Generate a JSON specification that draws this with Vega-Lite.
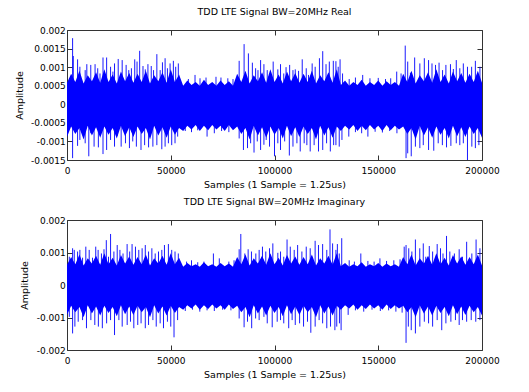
{
  "$schema": "https://vega.github.io/schema/vega-lite/v6.json",
  "background": "white",
  "padding": {"left": 13, "top": 6, "right": 5, "bottom": 5},
  "spacing": 7,
  "config": {
    "font": "DejaVu Sans",
    "view": {"stroke": "#333333", "strokeWidth": 1},
    "axis": {"labelFont": "DejaVu Sans", "labelFontSize": 9, "labelColor": "#000000", "labelFlush": false, "labelOverlap": false, "titleFont": "DejaVu Sans", "titleFontSize": 9.5, "titleFontWeight": "normal", "titleColor": "#000000", "grid": false, "domain": false, "tickColor": "#333333", "tickSize": -5},
    "title": {"font": "DejaVu Sans", "fontSize": 9.5, "fontWeight": "normal", "color": "#000000", "offset": 10}
  },
  "datasets": {
    "core1": [
      {"x":0,"hi":0.00058,"lo":-0.00088},{"x":2000,"hi":0.00082,"lo":-0.0006},{"x":4000,"hi":0.0006,"lo":-0.0008},{"x":6000,"hi":0.0009,"lo":-0.00064},{"x":8000,"hi":0.00056,"lo":-0.00095},{"x":10000,"hi":0.00078,"lo":-0.00058},{"x":12000,"hi":0.00062,"lo":-0.00084},{"x":14000,"hi":0.00086,"lo":-0.00062},{"x":16000,"hi":0.00058,"lo":-0.0009},{"x":18000,"hi":0.00094,"lo":-0.0006},{"x":20000,"hi":0.0006,"lo":-0.00082},{"x":22000,"hi":0.0008,"lo":-0.00064},{"x":24000,"hi":0.00056,"lo":-0.00092},{"x":26000,"hi":0.00088,"lo":-0.00058},{"x":28000,"hi":0.00062,"lo":-0.00086},{"x":30000,"hi":0.00084,"lo":-0.00062},{"x":32000,"hi":0.00058,"lo":-0.00088},{"x":34000,"hi":0.00082,"lo":-0.0006},{"x":36000,"hi":0.0006,"lo":-0.0008},{"x":38000,"hi":0.0009,"lo":-0.00064},{"x":40000,"hi":0.00056,"lo":-0.00095},{"x":42000,"hi":0.00078,"lo":-0.00058},{"x":44000,"hi":0.00062,"lo":-0.00084},{"x":46000,"hi":0.00086,"lo":-0.00062},{"x":48000,"hi":0.00058,"lo":-0.0009},{"x":50000,"hi":0.00094,"lo":-0.0006},{"x":52000,"hi":0.0006,"lo":-0.00082},{"x":54000,"hi":0.0008,"lo":-0.00064},
      {"x":56000,"hi":0.0005,"lo":-0.00072},{"x":58000,"hi":0.00064,"lo":-0.00058},{"x":60000,"hi":0.00052,"lo":-0.00068},{"x":62000,"hi":0.0006,"lo":-0.00056},{"x":64000,"hi":0.0005,"lo":-0.00072},{"x":66000,"hi":0.00066,"lo":-0.00058},{"x":68000,"hi":0.00052,"lo":-0.0007},{"x":70000,"hi":0.0006,"lo":-0.00056},{"x":72000,"hi":0.0005,"lo":-0.00068},{"x":74000,"hi":0.00064,"lo":-0.00058},{"x":76000,"hi":0.00052,"lo":-0.00072},{"x":78000,"hi":0.00062,"lo":-0.00056},{"x":80000,"hi":0.0005,"lo":-0.0007},
      {"x":82000,"hi":0.00082,"lo":-0.0006},{"x":84000,"hi":0.0006,"lo":-0.0008},{"x":86000,"hi":0.0009,"lo":-0.00064},{"x":88000,"hi":0.00056,"lo":-0.00095},{"x":90000,"hi":0.00078,"lo":-0.00058},{"x":92000,"hi":0.00062,"lo":-0.00084},{"x":94000,"hi":0.00086,"lo":-0.00062},{"x":96000,"hi":0.00058,"lo":-0.0009},{"x":98000,"hi":0.00094,"lo":-0.0006},{"x":100000,"hi":0.0006,"lo":-0.00082},{"x":102000,"hi":0.0008,"lo":-0.00064},{"x":104000,"hi":0.00056,"lo":-0.00092},{"x":106000,"hi":0.00088,"lo":-0.00058},{"x":108000,"hi":0.00062,"lo":-0.00086},{"x":110000,"hi":0.00084,"lo":-0.00062},{"x":112000,"hi":0.00058,"lo":-0.00088},{"x":114000,"hi":0.00082,"lo":-0.0006},{"x":116000,"hi":0.0006,"lo":-0.0008},{"x":118000,"hi":0.0009,"lo":-0.00064},{"x":120000,"hi":0.00056,"lo":-0.00095},{"x":122000,"hi":0.00078,"lo":-0.00058},{"x":124000,"hi":0.00062,"lo":-0.00084},{"x":126000,"hi":0.00086,"lo":-0.00062},{"x":128000,"hi":0.00058,"lo":-0.0009},{"x":130000,"hi":0.00094,"lo":-0.0006},
      {"x":132000,"hi":0.00052,"lo":-0.00072},{"x":134000,"hi":0.00064,"lo":-0.00058},{"x":136000,"hi":0.0005,"lo":-0.00068},{"x":138000,"hi":0.0006,"lo":-0.00056},{"x":140000,"hi":0.00052,"lo":-0.00072},{"x":142000,"hi":0.00066,"lo":-0.00058},{"x":144000,"hi":0.0005,"lo":-0.0007},{"x":146000,"hi":0.0006,"lo":-0.00056},{"x":148000,"hi":0.00052,"lo":-0.00068},{"x":150000,"hi":0.00064,"lo":-0.00058},{"x":152000,"hi":0.0005,"lo":-0.00072},{"x":154000,"hi":0.00062,"lo":-0.00056},{"x":156000,"hi":0.00052,"lo":-0.0007},{"x":158000,"hi":0.0006,"lo":-0.00058},{"x":160000,"hi":0.0005,"lo":-0.00068},
      {"x":162000,"hi":0.00082,"lo":-0.0006},{"x":164000,"hi":0.0006,"lo":-0.0008},{"x":166000,"hi":0.0009,"lo":-0.00064},{"x":168000,"hi":0.00056,"lo":-0.00095},{"x":170000,"hi":0.00078,"lo":-0.00058},{"x":172000,"hi":0.00062,"lo":-0.00084},{"x":174000,"hi":0.00086,"lo":-0.00062},{"x":176000,"hi":0.00058,"lo":-0.0009},{"x":178000,"hi":0.00094,"lo":-0.0006},{"x":180000,"hi":0.0006,"lo":-0.00082},{"x":182000,"hi":0.0008,"lo":-0.00064},{"x":184000,"hi":0.00056,"lo":-0.00092},{"x":186000,"hi":0.00088,"lo":-0.00058},{"x":188000,"hi":0.00062,"lo":-0.00086},{"x":190000,"hi":0.00084,"lo":-0.00062},{"x":192000,"hi":0.00058,"lo":-0.00088},{"x":194000,"hi":0.00082,"lo":-0.0006},{"x":196000,"hi":0.0006,"lo":-0.0008},{"x":198000,"hi":0.0009,"lo":-0.00064},{"x":200000,"hi":0.00058,"lo":-0.0009}
    ],
    "spk1": [
      {"x":2700,"y":0.00178},{"x":3020,"y":0.0013},{"x":5100,"y":0.00121},{"x":6200,"y":0.00101},{"x":8760,"y":0.00092},{"x":9550,"y":0.00108},{"x":11460,"y":0.00106},{"x":13530,"y":0.00108},{"x":14800,"y":0.00097},{"x":15900,"y":0.00083},{"x":17350,"y":0.00126},{"x":19100,"y":0.00126},{"x":21000,"y":0.00101},{"x":22130,"y":0.00088},{"x":22900,"y":0.0011},{"x":24680,"y":0.00122},{"x":26590,"y":0.00119},{"x":28500,"y":0.00106},{"x":29770,"y":0.00092},{"x":31040,"y":0.00097},{"x":32640,"y":0.00121},{"x":33750,"y":0.00115},{"x":35020,"y":0.00144},{"x":36620,"y":0.00103},{"x":37730,"y":0.00094},{"x":39000,"y":0.00108},{"x":40600,"y":0.00103},{"x":41710,"y":0.00092},{"x":43300,"y":0.00135},{"x":44900,"y":0.00092},{"x":46000,"y":0.00113},{"x":47280,"y":0.00124},{"x":48400,"y":0.00097},{"x":49670,"y":0.0011},{"x":51260,"y":0.00117},{"x":52380,"y":0.00101},{"x":53650,"y":0.0011},
      {"x":58500,"y":0.00068},{"x":61700,"y":0.00079},{"x":64100,"y":0.0007},{"x":67000,"y":0.00072},{"x":71800,"y":0.00074},{"x":74200,"y":0.00072},{"x":77500,"y":0.0007},{"x":80000,"y":0.00068},
      {"x":82970,"y":0.00117},{"x":85350,"y":0.00162},{"x":87420,"y":0.00137},{"x":89330,"y":0.00112},{"x":90900,"y":0.00097},{"x":92040,"y":0.00092},{"x":93300,"y":0.00119},{"x":94900,"y":0.00108},{"x":96500,"y":0.00092},{"x":98100,"y":0.00088},{"x":99360,"y":0.00115},{"x":101600,"y":0.00094},{"x":102900,"y":0.00108},{"x":104460,"y":0.00083},{"x":105570,"y":0.001},{"x":107300,"y":0.00106},{"x":108900,"y":0.00092},{"x":110000,"y":0.00094},{"x":111600,"y":0.0009},{"x":113360,"y":0.00121},{"x":115300,"y":0.00097},{"x":116400,"y":0.00079},{"x":118150,"y":0.0011},{"x":119600,"y":0.00101},{"x":121650,"y":0.00124},{"x":123240,"y":0.00143},{"x":124830,"y":0.00108},{"x":126420,"y":0.00115},{"x":128340,"y":0.00117},{"x":129600,"y":0.00116},{"x":130700,"y":0.00101},{"x":131600,"y":0.00121},{"x":132800,"y":0.00083},
      {"x":136000,"y":0.00068},{"x":139000,"y":0.00072},{"x":142500,"y":0.00079},{"x":146000,"y":0.0007},{"x":150000,"y":0.00071},{"x":153500,"y":0.00068},{"x":156000,"y":0.0007},{"x":158900,"y":0.00088},{"x":161000,"y":0.00083},
      {"x":163000,"y":0.00158},{"x":164200,"y":0.00115},{"x":165500,"y":0.00085},{"x":167550,"y":0.00126},{"x":170050,"y":0.0011},{"x":172200,"y":0.00124},{"x":174250,"y":0.00119},{"x":175900,"y":0.0011},{"x":177600,"y":0.00106},{"x":179300,"y":0.00112},{"x":181000,"y":0.00092},{"x":182600,"y":0.00106},{"x":184800,"y":0.00108},{"x":186200,"y":0.00095},{"x":187600,"y":0.00119},{"x":189300,"y":0.00097},{"x":191000,"y":0.0011},{"x":193000,"y":0.00101},{"x":195000,"y":0.00101},{"x":196800,"y":0.00117},{"x":199000,"y":0.00101},
      {"x":2700,"y":-0.00145},{"x":5100,"y":-0.00112},{"x":6200,"y":-0.00096},{"x":8760,"y":-0.00105},{"x":10500,"y":-0.0014},{"x":11460,"y":-0.00078},{"x":13050,"y":-0.00114},{"x":15120,"y":-0.00116},{"x":17350,"y":-0.00134},{"x":19100,"y":-0.00123},{"x":21000,"y":-0.00096},{"x":22900,"y":-0.00114},{"x":24200,"y":-0.00085},{"x":26100,"y":-0.00114},{"x":28180,"y":-0.00105},{"x":30090,"y":-0.00118},{"x":31680,"y":-0.001},{"x":33430,"y":-0.00114},{"x":35660,"y":-0.00123},{"x":37410,"y":-0.0011},{"x":39320,"y":-0.00116},{"x":41390,"y":-0.00114},{"x":43300,"y":-0.0011},{"x":45690,"y":-0.00121},{"x":47280,"y":-0.00114},{"x":48870,"y":-0.00105},{"x":50460,"y":-0.0011},{"x":52060,"y":-0.00105},{"x":53330,"y":-0.00087},
      {"x":57000,"y":-0.00072},{"x":60000,"y":-0.00075},{"x":63000,"y":-0.0007},{"x":67500,"y":-0.00087},{"x":71000,"y":-0.00078},{"x":74500,"y":-0.00072},{"x":78000,"y":-0.00075},
      {"x":82970,"y":-0.00092},{"x":85030,"y":-0.00123},{"x":86990,"y":-0.00118},{"x":88500,"y":-0.00105},{"x":90130,"y":-0.0013},{"x":91700,"y":-0.001},{"x":93300,"y":-0.00123},{"x":94900,"y":-0.00109},{"x":96000,"y":-0.00096},{"x":97600,"y":-0.00114},{"x":100000,"y":-0.0014},{"x":101600,"y":-0.00105},{"x":102900,"y":-0.00123},{"x":104900,"y":-0.001},{"x":107150,"y":-0.00138},{"x":108900,"y":-0.00114},{"x":110800,"y":-0.00105},{"x":112400,"y":-0.00127},{"x":114300,"y":-0.00105},{"x":115600,"y":-0.0011},{"x":117200,"y":-0.00127},{"x":119100,"y":-0.0011},{"x":121200,"y":-0.00127},{"x":123240,"y":-0.00123},{"x":125100,"y":-0.00105},{"x":126900,"y":-0.00127},{"x":128500,"y":-0.0011},{"x":129600,"y":-0.0011},{"x":131200,"y":-0.00114},{"x":132500,"y":-0.00096},
      {"x":135800,"y":-0.00087},{"x":139000,"y":-0.00075},{"x":142000,"y":-0.00078},{"x":145000,"y":-0.00087},{"x":148500,"y":-0.00074},{"x":152000,"y":-0.00076},{"x":155500,"y":-0.00072},{"x":159000,"y":-0.00078},
      {"x":163400,"y":-0.00145},{"x":164200,"y":-0.00132},{"x":165900,"y":-0.0014},{"x":167900,"y":-0.00114},{"x":170050,"y":-0.00118},{"x":171700,"y":-0.0011},{"x":174250,"y":-0.00123},{"x":176750,"y":-0.00125},{"x":178900,"y":-0.00105},{"x":180900,"y":-0.0011},{"x":182900,"y":-0.00116},{"x":185000,"y":-0.00112},{"x":187600,"y":-0.00105},{"x":189300,"y":-0.0011},{"x":191000,"y":-0.00105},{"x":193000,"y":-0.0015},{"x":195100,"y":-0.00114},{"x":196800,"y":-0.00118},{"x":198500,"y":-0.0011}
    ],
    "core2": [
      {"x":0,"hi":0.00062,"lo":-0.00092},{"x":2000,"hi":0.00086,"lo":-0.00064},{"x":4000,"hi":0.00064,"lo":-0.00084},{"x":6000,"hi":0.00094,"lo":-0.00068},{"x":8000,"hi":0.0006,"lo":-0.00099},{"x":10000,"hi":0.00082,"lo":-0.00062},{"x":12000,"hi":0.00066,"lo":-0.00088},{"x":14000,"hi":0.0009,"lo":-0.00066},{"x":16000,"hi":0.00062,"lo":-0.00094},{"x":18000,"hi":0.00098,"lo":-0.00064},{"x":20000,"hi":0.00064,"lo":-0.00086},{"x":22000,"hi":0.00084,"lo":-0.00068},{"x":24000,"hi":0.0006,"lo":-0.00096},{"x":26000,"hi":0.00092,"lo":-0.00062},{"x":28000,"hi":0.00066,"lo":-0.0009},{"x":30000,"hi":0.00088,"lo":-0.00066},{"x":32000,"hi":0.00062,"lo":-0.00092},{"x":34000,"hi":0.00086,"lo":-0.00064},{"x":36000,"hi":0.00064,"lo":-0.00084},{"x":38000,"hi":0.00094,"lo":-0.00068},{"x":40000,"hi":0.0006,"lo":-0.00099},{"x":42000,"hi":0.00082,"lo":-0.00062},{"x":44000,"hi":0.00066,"lo":-0.00088},{"x":46000,"hi":0.0009,"lo":-0.00066},{"x":48000,"hi":0.00062,"lo":-0.00094},{"x":50000,"hi":0.00098,"lo":-0.00064},{"x":52000,"hi":0.00064,"lo":-0.00086},{"x":54000,"hi":0.00084,"lo":-0.00068},
      {"x":56000,"hi":0.00056,"lo":-0.00076},{"x":58000,"hi":0.00068,"lo":-0.00062},{"x":60000,"hi":0.00058,"lo":-0.00072},{"x":62000,"hi":0.00064,"lo":-0.0006},{"x":64000,"hi":0.00056,"lo":-0.00076},{"x":66000,"hi":0.0007,"lo":-0.00062},{"x":68000,"hi":0.00058,"lo":-0.00074},{"x":70000,"hi":0.00064,"lo":-0.0006},{"x":72000,"hi":0.00056,"lo":-0.00072},{"x":74000,"hi":0.00068,"lo":-0.00062},{"x":76000,"hi":0.00058,"lo":-0.00076},{"x":78000,"hi":0.00066,"lo":-0.0006},{"x":80000,"hi":0.00056,"lo":-0.00074},
      {"x":82000,"hi":0.00086,"lo":-0.00064},{"x":84000,"hi":0.00064,"lo":-0.00084},{"x":86000,"hi":0.00094,"lo":-0.00068},{"x":88000,"hi":0.0006,"lo":-0.00099},{"x":90000,"hi":0.00082,"lo":-0.00062},{"x":92000,"hi":0.00066,"lo":-0.00088},{"x":94000,"hi":0.0009,"lo":-0.00066},{"x":96000,"hi":0.00062,"lo":-0.00094},{"x":98000,"hi":0.00098,"lo":-0.00064},{"x":100000,"hi":0.00064,"lo":-0.00086},{"x":102000,"hi":0.00084,"lo":-0.00068},{"x":104000,"hi":0.0006,"lo":-0.00096},{"x":106000,"hi":0.00092,"lo":-0.00062},{"x":108000,"hi":0.00066,"lo":-0.0009},{"x":110000,"hi":0.00088,"lo":-0.00066},{"x":112000,"hi":0.00062,"lo":-0.00092},{"x":114000,"hi":0.00086,"lo":-0.00064},{"x":116000,"hi":0.00064,"lo":-0.00084},{"x":118000,"hi":0.00094,"lo":-0.00068},{"x":120000,"hi":0.0006,"lo":-0.00099},{"x":122000,"hi":0.00082,"lo":-0.00062},{"x":124000,"hi":0.00066,"lo":-0.00088},{"x":126000,"hi":0.0009,"lo":-0.00066},{"x":128000,"hi":0.00062,"lo":-0.00094},{"x":130000,"hi":0.00098,"lo":-0.00064},
      {"x":132000,"hi":0.00058,"lo":-0.00076},{"x":134000,"hi":0.00068,"lo":-0.00062},{"x":136000,"hi":0.00056,"lo":-0.00072},{"x":138000,"hi":0.00064,"lo":-0.0006},{"x":140000,"hi":0.00058,"lo":-0.00076},{"x":142000,"hi":0.0007,"lo":-0.00062},{"x":144000,"hi":0.00056,"lo":-0.00074},{"x":146000,"hi":0.00064,"lo":-0.0006},{"x":148000,"hi":0.00058,"lo":-0.00072},{"x":150000,"hi":0.00068,"lo":-0.00062},{"x":152000,"hi":0.00056,"lo":-0.00076},{"x":154000,"hi":0.00066,"lo":-0.0006},{"x":156000,"hi":0.00058,"lo":-0.00074},{"x":158000,"hi":0.00064,"lo":-0.00062},{"x":160000,"hi":0.00056,"lo":-0.00072},
      {"x":162000,"hi":0.00086,"lo":-0.00064},{"x":164000,"hi":0.00064,"lo":-0.00084},{"x":166000,"hi":0.00094,"lo":-0.00068},{"x":168000,"hi":0.0006,"lo":-0.00099},{"x":170000,"hi":0.00082,"lo":-0.00062},{"x":172000,"hi":0.00066,"lo":-0.00088},{"x":174000,"hi":0.0009,"lo":-0.00066},{"x":176000,"hi":0.00062,"lo":-0.00094},{"x":178000,"hi":0.00098,"lo":-0.00064},{"x":180000,"hi":0.00064,"lo":-0.00086},{"x":182000,"hi":0.00084,"lo":-0.00068},{"x":184000,"hi":0.0006,"lo":-0.00096},{"x":186000,"hi":0.00092,"lo":-0.00062},{"x":188000,"hi":0.00066,"lo":-0.0009},{"x":190000,"hi":0.00088,"lo":-0.00066},{"x":192000,"hi":0.00062,"lo":-0.00092},{"x":194000,"hi":0.00086,"lo":-0.00064},{"x":196000,"hi":0.00064,"lo":-0.00084},{"x":198000,"hi":0.00094,"lo":-0.00068},{"x":200000,"hi":0.0006,"lo":-0.00094}
    ],
    "spk2": [
      {"x":1110,"y":0.00087},{"x":2700,"y":0.00113},{"x":3500,"y":0.00108},{"x":5100,"y":0.00103},{"x":6200,"y":0.00108},{"x":7500,"y":0.00084},{"x":9070,"y":0.00118},{"x":10700,"y":0.00108},{"x":12300,"y":0.00084},{"x":13850,"y":0.00118},{"x":15000,"y":0.00108},{"x":16600,"y":0.00097},{"x":17830,"y":0.0011},{"x":18940,"y":0.00138},{"x":20000,"y":0.00087},{"x":21000,"y":0.00157},{"x":22600,"y":0.00103},{"x":24200,"y":0.00123},{"x":25500,"y":0.00108},{"x":27000,"y":0.00097},{"x":28970,"y":0.00126},{"x":30200,"y":0.00103},{"x":31360,"y":0.00126},{"x":33000,"y":0.00118},{"x":34600,"y":0.00108},{"x":36200,"y":0.00113},{"x":37730,"y":0.00123},{"x":39300,"y":0.00103},{"x":40900,"y":0.00113},{"x":42500,"y":0.00097},{"x":44100,"y":0.00103},{"x":45700,"y":0.00108},{"x":46960,"y":0.00123},{"x":48870,"y":0.00126},{"x":50460,"y":0.00108},{"x":52060,"y":0.00103},{"x":53650,"y":0.00097},
      {"x":57630,"y":0.00072},{"x":60000,"y":0.00076},{"x":63000,"y":0.0007},{"x":66000,"y":0.00072},{"x":70550,"y":0.00097},{"x":73400,"y":0.00082},{"x":78000,"y":0.00072},{"x":80500,"y":0.00076},
      {"x":82970,"y":0.0011},{"x":83760,"y":0.00157},{"x":85700,"y":0.00097},{"x":87300,"y":0.0011},{"x":88900,"y":0.00103},{"x":91000,"y":0.00097},{"x":92600,"y":0.00108},{"x":94200,"y":0.00118},{"x":95800,"y":0.00103},{"x":97600,"y":0.00113},{"x":99200,"y":0.00128},{"x":101600,"y":0.00099},{"x":102900,"y":0.00103},{"x":104460,"y":0.00087},{"x":106050,"y":0.0014},{"x":107600,"y":0.00118},{"x":109500,"y":0.00108},{"x":111140,"y":0.00123},{"x":113200,"y":0.00103},{"x":115300,"y":0.00118},{"x":117200,"y":0.00113},{"x":119580,"y":0.00136},{"x":121200,"y":0.00123},{"x":123200,"y":0.00126},{"x":125200,"y":0.00108},{"x":126750,"y":0.00171},{"x":128000,"y":0.00128},{"x":129600,"y":0.00108},{"x":130300,"y":0.00126},{"x":131200,"y":0.00097},{"x":132400,"y":0.00144},
      {"x":136000,"y":0.00076},{"x":138500,"y":0.00072},{"x":141600,"y":0.00097},{"x":145000,"y":0.00074},{"x":148000,"y":0.00072},{"x":150800,"y":0.00082},{"x":154000,"y":0.00074},{"x":157500,"y":0.00076},{"x":160500,"y":0.00079},
      {"x":162500,"y":0.00118},{"x":163400,"y":0.00123},{"x":164700,"y":0.00113},{"x":166200,"y":0.00103},{"x":167900,"y":0.0014},{"x":170000,"y":0.00113},{"x":171700,"y":0.00128},{"x":172900,"y":0.00087},{"x":174600,"y":0.0012},{"x":176200,"y":0.00103},{"x":178400,"y":0.00126},{"x":180000,"y":0.00113},{"x":181200,"y":0.00097},{"x":182900,"y":0.00151},{"x":184500,"y":0.00103},{"x":186700,"y":0.00097},{"x":189000,"y":0.0011},{"x":190600,"y":0.00087},{"x":192600,"y":0.00133},{"x":195100,"y":0.00097},{"x":197150,"y":0.0014},{"x":199000,"y":0.00113},
      {"x":1110,"y":-0.00098},{"x":2700,"y":-0.00149},{"x":3800,"y":-0.00128},{"x":5400,"y":-0.00113},{"x":7500,"y":-0.00108},{"x":9390,"y":-0.00133},{"x":11500,"y":-0.00108},{"x":13400,"y":-0.00123},{"x":15120,"y":-0.00128},{"x":17030,"y":-0.00133},{"x":19100,"y":-0.00118},{"x":21000,"y":-0.00108},{"x":22900,"y":-0.00154},{"x":25000,"y":-0.00108},{"x":26600,"y":-0.00128},{"x":29000,"y":-0.00123},{"x":30600,"y":-0.00113},{"x":32200,"y":-0.00133},{"x":34100,"y":-0.00123},{"x":35700,"y":-0.00118},{"x":37730,"y":-0.00133},{"x":39300,"y":-0.00123},{"x":41400,"y":-0.00108},{"x":43000,"y":-0.00128},{"x":44900,"y":-0.00118},{"x":46500,"y":-0.00133},{"x":48400,"y":-0.00113},{"x":50000,"y":-0.00128},{"x":51580,"y":-0.00161},{"x":53300,"y":-0.00108},
      {"x":57000,"y":-0.0008},{"x":60500,"y":-0.00076},{"x":64000,"y":-0.00082},{"x":67500,"y":-0.00078},{"x":71000,"y":-0.0008},{"x":75000,"y":-0.00076},{"x":79000,"y":-0.00078},
      {"x":82970,"y":-0.00103},{"x":85350,"y":-0.0013},{"x":86990,"y":-0.00113},{"x":89000,"y":-0.00133},{"x":90900,"y":-0.00103},{"x":92600,"y":-0.00108},{"x":94900,"y":-0.00098},{"x":96500,"y":-0.00118},{"x":98900,"y":-0.0013},{"x":101300,"y":-0.00113},{"x":102900,"y":-0.00108},{"x":104460,"y":-0.00118},{"x":106850,"y":-0.00133},{"x":108500,"y":-0.00108},{"x":110000,"y":-0.00123},{"x":112100,"y":-0.00118},{"x":114000,"y":-0.00128},{"x":115900,"y":-0.00113},{"x":117500,"y":-0.00147},{"x":119600,"y":-0.00128},{"x":121500,"y":-0.00108},{"x":123200,"y":-0.00118},{"x":125200,"y":-0.00133},{"x":127000,"y":-0.00128},{"x":129100,"y":-0.00139},{"x":130000,"y":-0.00128},{"x":131300,"y":-0.00118},{"x":132100,"y":-0.00139},
      {"x":135500,"y":-0.00092},{"x":139000,"y":-0.00078},{"x":143000,"y":-0.00082},{"x":147000,"y":-0.00076},{"x":151000,"y":-0.0008},{"x":155000,"y":-0.00078},{"x":158500,"y":-0.00082},{"x":161500,"y":-0.00085},
      {"x":163400,"y":-0.00178},{"x":164500,"y":-0.00128},{"x":165900,"y":-0.00139},{"x":167900,"y":-0.00149},{"x":170050,"y":-0.00128},{"x":172200,"y":-0.00113},{"x":174250,"y":-0.00118},{"x":176200,"y":-0.00128},{"x":178400,"y":-0.00108},{"x":180600,"y":-0.00139},{"x":182600,"y":-0.00118},{"x":185000,"y":-0.00113},{"x":187200,"y":-0.00108},{"x":189000,"y":-0.00123},{"x":190600,"y":-0.00108},{"x":192600,"y":-0.00113},{"x":194800,"y":-0.00108},{"x":197000,"y":-0.00113},{"x":199000,"y":-0.00108}
    ]
  },
  "vconcat": [
    {
      "title": "TDD LTE Signal BW=20MHz Real",
      "width": 415,
      "height": 130,
      "resolve": {"axis": {"x": "independent", "y": "independent"}},
      "layer": [
        {
          "data": {"name": "core1"},
          "mark": {"type": "area", "color": "#0000ff"},
          "encoding": {
            "x": {"field": "x", "type": "quantitative", "scale": {"domain": [0, 200000], "nice": false, "zero": false}, "axis": {"orient": "bottom", "values": [0, 50000, 100000, 150000, 200000], "format": "d", "labelPadding": 11, "title": "Samples (1 Sample = 1.25us)", "titlePadding": 4}},
            "y": {"field": "hi", "type": "quantitative", "scale": {"domain": [-0.0015, 0.002], "nice": false, "zero": false}, "axis": {"orient": "left", "values": [-0.0015, -0.001, -0.0005, 0, 0.0005, 0.001, 0.0015, 0.002], "labelExpr": "'' + datum.value", "labelPadding": 6.7, "title": "Amplitude", "titlePadding": 6.5}},
            "y2": {"field": "lo"}
          }
        },
        {
          "data": {"name": "spk1"},
          "mark": {"type": "rule", "color": "#0000ff", "strokeWidth": 1, "opacity": 0.9},
          "encoding": {
            "x": {"field": "x", "type": "quantitative", "scale": {"domain": [0, 200000], "nice": false, "zero": false}, "axis": {"orient": "top", "values": [0, 50000, 100000, 150000, 200000], "labels": false, "title": null}},
            "y": {"field": "y", "type": "quantitative", "scale": {"domain": [-0.0015, 0.002], "nice": false, "zero": false}, "axis": {"orient": "right", "values": [-0.0015, -0.001, -0.0005, 0, 0.0005, 0.001, 0.0015, 0.002], "labels": false, "title": null}},
            "y2": {"datum": 0}
          }
        }
      ]
    },
    {
      "title": "TDD LTE Signal BW=20MHz Imaginary",
      "width": 415,
      "height": 130,
      "resolve": {"axis": {"x": "independent", "y": "independent"}},
      "layer": [
        {
          "data": {"name": "core2"},
          "mark": {"type": "area", "color": "#0000ff"},
          "encoding": {
            "x": {"field": "x", "type": "quantitative", "scale": {"domain": [0, 200000], "nice": false, "zero": false}, "axis": {"orient": "bottom", "values": [0, 50000, 100000, 150000, 200000], "format": "d", "labelPadding": 11, "title": "Samples (1 Sample = 1.25us)", "titlePadding": 4}},
            "y": {"field": "hi", "type": "quantitative", "scale": {"domain": [-0.002, 0.002], "nice": false, "zero": false}, "axis": {"orient": "left", "values": [-0.002, -0.001, 0, 0.001, 0.002], "labelExpr": "'' + datum.value", "labelPadding": 6.7, "title": "Amplitude", "titlePadding": 6.5}},
            "y2": {"field": "lo"}
          }
        },
        {
          "data": {"name": "spk2"},
          "mark": {"type": "rule", "color": "#0000ff", "strokeWidth": 1, "opacity": 0.9},
          "encoding": {
            "x": {"field": "x", "type": "quantitative", "scale": {"domain": [0, 200000], "nice": false, "zero": false}, "axis": {"orient": "top", "values": [0, 50000, 100000, 150000, 200000], "labels": false, "title": null}},
            "y": {"field": "y", "type": "quantitative", "scale": {"domain": [-0.002, 0.002], "nice": false, "zero": false}, "axis": {"orient": "right", "values": [-0.002, -0.001, 0, 0.001, 0.002], "labels": false, "title": null}},
            "y2": {"datum": 0}
          }
        }
      ]
    }
  ]
}
